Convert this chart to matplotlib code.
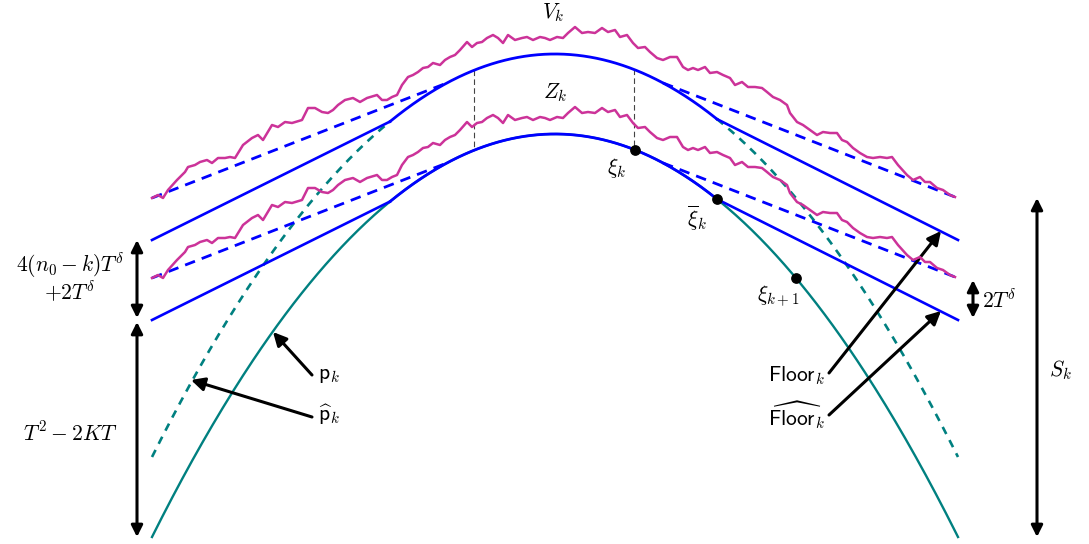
import numpy as np
import matplotlib.pyplot as plt

plt.rcParams['mathtext.fontset'] = 'cm'

# upper rough path V_k (pixel coords, y down)
path_x = [152, 158, 163, 168, 177, 185, 188, 195, 200, 207, 212, 218, 225, 230, 235,
          243, 252, 258, 263, 272, 278, 285, 292, 302, 308, 315, 322, 328, 333, 338,
          345, 353, 360, 367, 377, 382, 387, 392, 397, 402, 408, 413, 418, 423, 428,
          433, 440, 445, 450, 455, 460, 467, 472, 477, 482, 487, 493, 498, 503, 508,
          515, 522, 527, 533, 540, 545, 550, 557, 563, 568, 575, 582, 588, 595, 602,
          608, 615, 620, 627, 633, 638, 645, 650, 657, 663, 670, 677, 683, 688, 693,
          698, 705, 710, 717, 723, 730, 735, 742, 748, 755, 762, 767, 773, 780, 787,
          790, 797, 803, 810, 817, 823, 830, 837, 842, 847, 853, 860, 867, 873, 880,
          887, 892, 898, 907, 913, 920, 925, 930, 937, 943, 950, 955]
path_y = [198, 195, 198, 190, 180, 172, 167, 165, 162, 160, 163, 158, 158, 157, 158,
          145, 138, 135, 140, 125, 127, 122, 123, 120, 108, 108, 112, 113, 110, 105,
          100, 98, 102, 98, 95, 100, 100, 97, 95, 85, 77, 75, 72, 68, 67,
          63, 65, 60, 57, 55, 50, 42, 47, 43, 42, 38, 35, 38, 43, 35,
          40, 38, 37, 40, 37, 38, 40, 37, 38, 33, 27, 33, 32, 33, 28,
          32, 30, 37, 35, 43, 48, 47, 52, 58, 60, 57, 57, 67, 70, 68,
          70, 67, 73, 72, 75, 78, 85, 82, 87, 87, 88, 92, 97, 100, 105,
          113, 122, 125, 130, 135, 132, 133, 133, 140, 142, 148, 153, 157, 158, 157,
          158, 157, 165, 175, 180, 177, 182, 182, 188, 190, 195, 197]
gap = 80  # Z_k sits this far below V_k, and Floor below its upper copy

# parabola p_k (lower) : vertex and span
vx, vy = 555, 134
x_left, x_right = 152, 958
y_bottom = 537
# Floor_k pieces
join_left, join_right = 390, 717
floor_end_y = 320
# dashed chords from path ends to the arc
chord_left, chord_right = 447, 663
xi_x = [635, 717, 796]
vline_x = [474, 634]

blue = '#0000ff'
teal = '#008080'
magenta = '#cc3399'


def par(x, lift=0):
    x = np.asarray(x, dtype=float)
    return vy - lift + (y_bottom - vy) * ((x - vx) / (vx - x_left)) ** 2


fig = plt.figure(figsize=(10.89, 5.44), dpi=100)
ax = fig.add_axes([0, 0, 1, 1])
ax.set_xlim(0, 1089)
ax.set_ylim(544, 0)
ax.axis('off')

px = np.array(path_x)
py = np.array(path_y)

for lift in [0, gap]:
    # parabola (solid for lower, dashed for upper)
    if lift == 0:
        xs = np.linspace(x_left, x_right, 400)
        ax.plot(xs, par(xs), c=teal, lw=1.7, zorder=2)
    else:
        for a, b in [(x_left, join_left), (join_right, x_right)]:
            xs = np.linspace(a, b, 200)
            ax.plot(xs, par(xs, lift), c=teal, lw=1.9, ls=(0, (3, 2.6)), zorder=2)
    # Floor: line - arc - line
    xs = np.linspace(join_left, join_right, 300)
    ax.plot(xs, par(xs, lift), c=blue, lw=2, zorder=3)
    ax.plot([x_left, join_left], [floor_end_y - lift, par(join_left, lift)], c=blue, lw=1.9, zorder=3)
    ax.plot([join_right, x_right], [par(join_right, lift), floor_end_y - lift], c=blue, lw=1.9, zorder=3)
    # dashed chords
    ax.plot([px[0], chord_left], [py[0] + gap - lift, par(chord_left, lift)],
            c=blue, lw=2, ls=(0, (3.8, 2.6)), zorder=3)
    ax.plot([chord_right, px[-1]], [par(chord_right, lift), py[-1] + gap - lift],
            c=blue, lw=2, ls=(0, (3.8, 2.6)), zorder=3)
    # rough path
    ax.plot(px, py + gap - lift, c=magenta, lw=1.8, zorder=4)

# vertical dashed guides
for x in vline_x:
    ax.plot([x, x], [par(x, gap), par(x)], c='#444444', lw=0.8, ls=(0, (5, 3)), zorder=1)

# points xi
ax.scatter(xi_x, par(xi_x), s=45, c='black', zorder=5)

fs = 15.5
ax.text(553, 13, r'$V_k$', fontsize=fs, ha='center', va='center')
ax.text(555, 93, r'$Z_k$', fontsize=fs, ha='center', va='center')
ax.text(617, 168, r'$\xi_k$', fontsize=fs, ha='center', va='center')
ax.text(697, 218, r'$\overline{\xi}_k$', fontsize=fs, ha='center', va='center')
ax.text(778, 296, r'$\xi_{k+1}$', fontsize=fs, ha='center', va='center')

arrow = dict(arrowstyle='-|>', lw=2.2, color='black', mutation_scale=20, shrinkA=0, shrinkB=0)
ax.annotate('', xy=(273, 332), xytext=(312, 375), arrowprops=arrow)
ax.annotate('', xy=(191, 380), xytext=(312, 417), arrowprops=arrow)
ax.text(318, 375, r'$\mathsf{p}_k$', fontsize=fs, ha='left', va='center')
ax.text(318, 415, r'$\widehat{\mathsf{p}}_k$', fontsize=fs, ha='left', va='center')

ax.annotate('', xy=(941, 231), xytext=(829, 373), arrowprops=arrow)
ax.annotate('', xy=(941, 311), xytext=(829, 415), arrowprops=arrow)
ax.text(825, 376, r'$\mathsf{Floor}_k$', fontsize=fs, ha='right', va='center')
ax.text(825, 415, r'$\widehat{\mathsf{Floor}}_k$', fontsize=fs, ha='right', va='center')

darrow = dict(arrowstyle='<|-|>', lw=2.2, color='black', mutation_scale=17, shrinkA=0, shrinkB=0)
ax.annotate('', xy=(137, 240), xytext=(137, 318), arrowprops=darrow)
ax.annotate('', xy=(137, 322), xytext=(137, 537), arrowprops=darrow)
ax.annotate('', xy=(973, 280), xytext=(973, 318), arrowprops=darrow)
ax.annotate('', xy=(1037, 198), xytext=(1037, 537), arrowprops=darrow)

ax.text(70, 265, r'$4(n_0-k)T^\delta$', fontsize=fs, ha='center', va='center')
ax.text(70, 292, r'$+2T^\delta$', fontsize=fs, ha='center', va='center')
ax.text(70, 433, r'$T^2-2KT$', fontsize=fs, ha='center', va='center')
ax.text(982, 300, r'$2T^\delta$', fontsize=fs, ha='left', va='center')
ax.text(1060, 370, r'$S_k$', fontsize=fs, ha='center', va='center')

fig.savefig('out.png', dpi=100)
